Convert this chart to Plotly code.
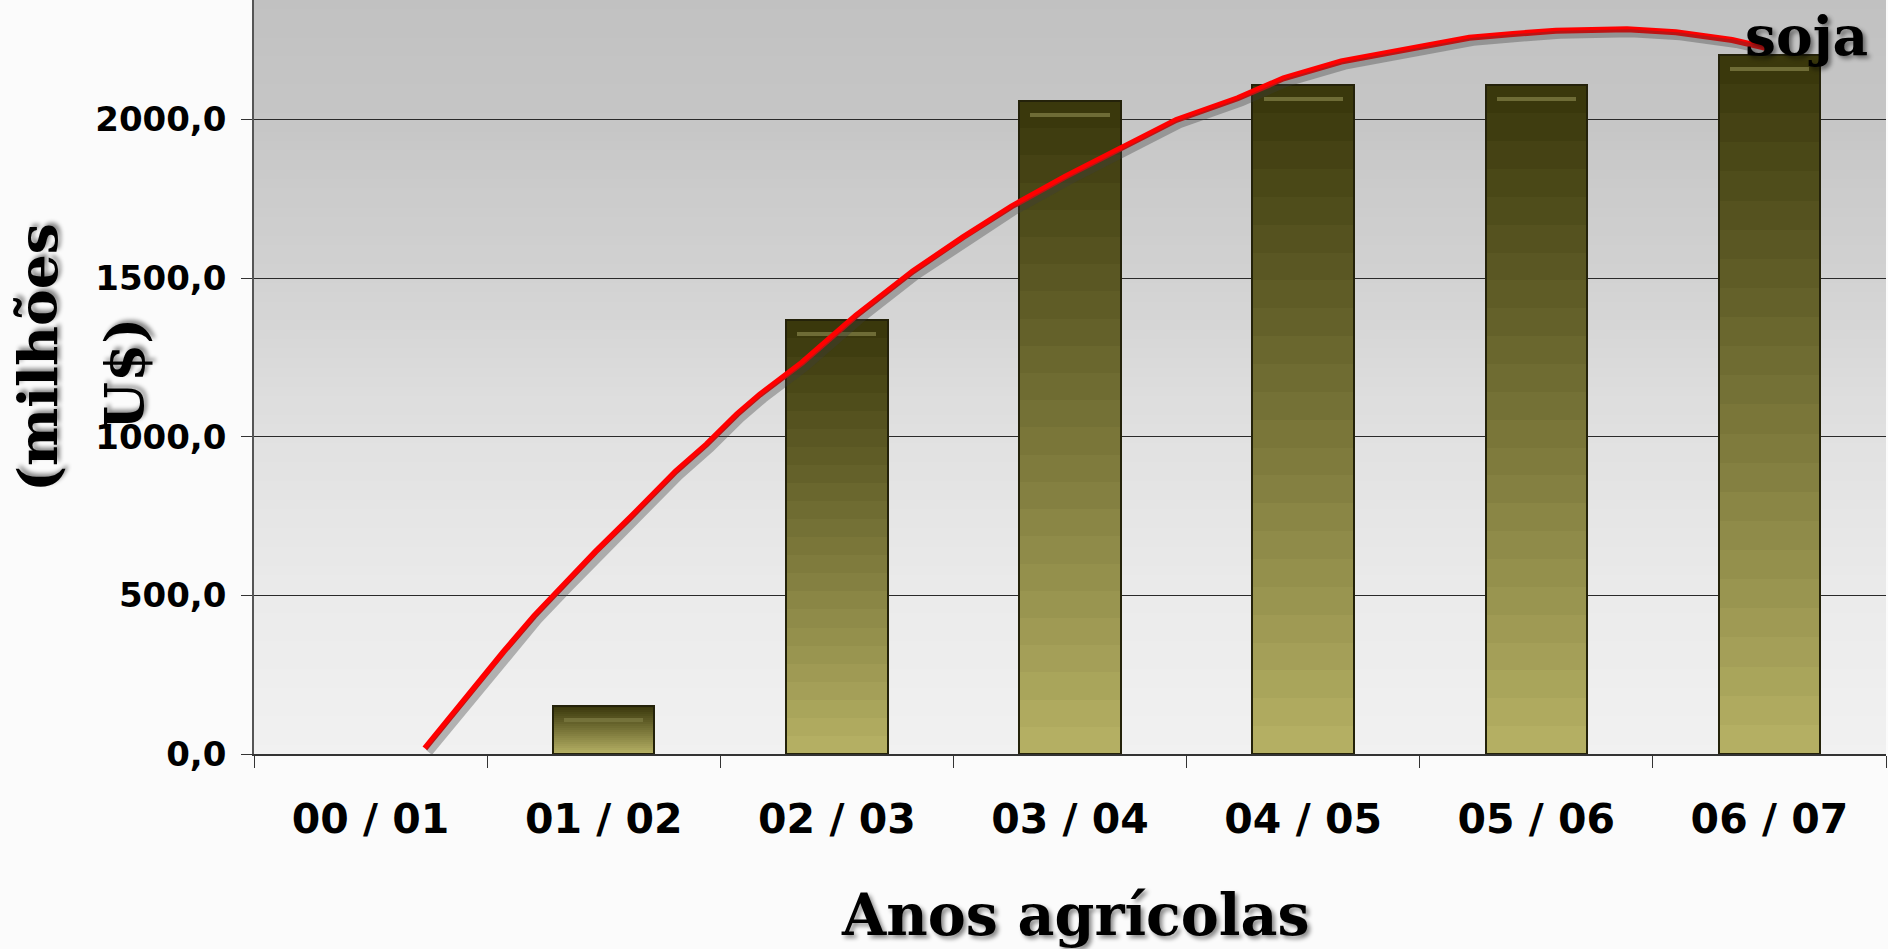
import plotly.graph_objects as go

# ---------------- data ----------------
categories = ["00 / 01", "01 / 02", "02 / 03", "03 / 04", "04 / 05", "05 / 06", "06 / 07"]
exports_musd = [0, 150, 1367, 2059, 2108, 2108, 2204]

# trend line, x in category units (0 = first category centre)
trend_x = [0.233, 0.414, 0.570, 0.702, 0.833, 0.964, 1.112, 1.309, 1.441, 1.572,
           1.670, 1.851, 2.081, 2.327, 2.541, 2.749, 2.980, 3.193, 3.456, 3.719,
           3.916, 4.163, 4.311, 4.540, 4.713, 4.900, 5.084, 5.389, 5.599, 5.840, 5.993]
trend_y = [18, 182, 322, 435, 536, 637, 744, 891, 976, 1071,
           1133, 1234, 1381, 1522, 1629, 1726, 1820, 1899, 1999, 2067,
           2130, 2183, 2204, 2235, 2258, 2270, 2280, 2285, 2275, 2251, 2225]

y_tickvals = [0, 500, 1000, 1500, 2000]
y_ticktext = ["0,0", "500,0", "1000,0", "1500,0", "2000,0"]

series_label = "soja"
x_title = "Anos agrícolas"
y_title_1 = "(milhões"
y_title_2 = "U$)"

# ---------------- style ----------------
W, H = 1888, 949
ML, MR, MT, MB = 254, 2, 0, 195
Y_MAX = 2377
BAR_W = 0.435
N_GRAD = 24
SERIF = "DejaVu Serif"
SANS = "DejaVu Sans"


def lerp_hex(c1, c2, t):
    a = [int(c1[i:i + 2], 16) for i in (1, 3, 5)]
    b = [int(c2[i:i + 2], 16) for i in (1, 3, 5)]
    return "rgb({},{},{})".format(*[round(a[k] + (b[k] - a[k]) * t) for k in range(3)])


xpos = list(range(len(categories)))
xr = [-0.5, len(categories) - 0.5]
px_x = (xr[1] - xr[0]) / (W - ML - MR)
px_y = Y_MAX / (H - MB - MT)
shown = [v if v > 0 else None for v in exports_musd]

fig = go.Figure()

# bar shadow at the base
fig.add_trace(go.Bar(
    x=xpos, y=[3 * px_y if v else None for v in shown], base=-3 * px_y, width=BAR_W * 0.95,
    marker=dict(color="#1c1c30", line=dict(width=0)), hoverinfo="skip", showlegend=False))

# bars: gradient built from overlaid bars (dark top -> light bottom)
BAR_TOP = "#3a380c"
BAR_BOT = "#b4af63"
for k in range(N_GRAD):
    frac = 1 - k / N_GRAD
    fig.add_trace(go.Bar(
        x=xpos, y=[v * frac if v else None for v in shown], width=BAR_W,
        marker=dict(color=lerp_hex(BAR_TOP, BAR_BOT, k / (N_GRAD - 1)), line=dict(width=0)),
        hoverinfo="skip", showlegend=False))

# bevel highlight just under the top of each bar
fig.add_trace(go.Bar(
    x=xpos, y=[4 * px_y if v else None for v in shown],
    base=[v - 16 * px_y if v else None for v in shown], width=BAR_W * 0.78,
    marker=dict(color="rgba(120,118,62,0.85)", line=dict(width=0)),
    hoverinfo="skip", showlegend=False))

# outline
fig.add_trace(go.Bar(
    x=xpos, y=shown, width=BAR_W,
    marker=dict(color="rgba(0,0,0,0)", line=dict(color="#24220a", width=2)),
    hoverinfo="skip", showlegend=False))

# shadow of trend line (same data, on an overlaid shifted axis pair)
SH = 4
fig.add_trace(go.Scatter(
    x=trend_x, y=trend_y, mode="lines", xaxis="x2", yaxis="y2",
    line=dict(color="rgba(60,60,60,0.35)", width=8),
    hoverinfo="skip", showlegend=False))

fig.add_trace(go.Scatter(
    x=trend_x, y=trend_y, mode="lines", name=series_label,
    line=dict(color="#ff0000", width=6), showlegend=False))

# background gradient of plot area
bg_stops = [(0.0, "#f1f1f1"), (0.2, "#ebebeb"), (0.42, "#e1e1e1"), (0.63, "#d2d2d2"),
            (0.84, "#c6c6c6"), (1.0, "#c1c1c1")]
shapes = []
NB = 80
for i in range(NB):
    t0, t1 = i / NB, (i + 1) / NB
    tm = (t0 + t1) / 2
    for j in range(len(bg_stops) - 1):
        if bg_stops[j][0] <= tm <= bg_stops[j + 1][0]:
            tt = (tm - bg_stops[j][0]) / (bg_stops[j + 1][0] - bg_stops[j][0])
            col = lerp_hex(bg_stops[j][1], bg_stops[j + 1][1], tt)
            break
    shapes.append(dict(type="rect", xref="x domain", yref="y domain", x0=0, x1=1,
                       y0=t0, y1=t1 + 0.002, fillcolor=col, line=dict(width=0), layer="below"))

shadow = "3px 3px 4px rgba(0,0,0,0.45)"
annotations = [
    dict(text=f"<b>{x_title}</b>", xref="paper", yref="paper",
         x=(1075 - ML) / (W - ML - MR), y=(H - MB - 914) / (H - MB - MT),
         xanchor="center", yanchor="middle", showarrow=False,
         font=dict(family=SERIF, size=57, color="black", shadow=shadow)),
    dict(text=f"<b>{y_title_1}</b>", xref="paper", yref="paper",
         x=(37 - ML) / (W - ML - MR), y=(H - MB - 358) / (H - MB - MT),
         xanchor="center", yanchor="middle", textangle=-90, showarrow=False,
         font=dict(family=SERIF, size=55, color="black", shadow=shadow)),
    dict(text=f"<b>{y_title_2}</b>", xref="paper", yref="paper",
         x=(124 - ML) / (W - ML - MR), y=(H - MB - 374) / (H - MB - MT),
         xanchor="center", yanchor="middle", textangle=-90, showarrow=False,
         font=dict(family=SERIF, size=55, color="black", shadow=shadow)),
    dict(text=f"<b>{series_label}</b>", xref="paper", yref="paper",
         x=(1806 - ML) / (W - ML - MR), y=(H - MB - 36) / (H - MB - MT),
         xanchor="center", yanchor="middle", showarrow=False,
         font=dict(family=SERIF, size=55, color="black", shadow=shadow)),
]

fig.update_layout(
    width=W, height=H,
    margin=dict(l=ML, r=MR, t=MT, b=MB),
    paper_bgcolor="#fbfbfb", plot_bgcolor="#e6e6e6",
    barmode="overlay", bargap=0,
    shapes=shapes, annotations=annotations,
    xaxis=dict(range=xr, tickvals=xpos, ticktext=[f"<b>{c}</b>" for c in categories],
               ticks="", showgrid=False, zeroline=False, showline=True,
               linecolor="#333333", linewidth=1.5,
               tickfont=dict(family=SANS, size=41, color="black"),
               ticklabelstandoff=28,
               minor=dict(tickvals=[x - 0.5 for x in xpos] + [xpos[-1] + 0.5],
                          ticks="outside", ticklen=12, tickcolor="#333333",
                          tickwidth=1, showgrid=False),
               fixedrange=True),
    yaxis=dict(range=[0, Y_MAX], tickvals=y_tickvals,
               ticktext=[f"<b>{t}</b>" for t in y_ticktext],
               ticks="outside", ticklen=11, tickcolor="#333333",
               showgrid=True, gridcolor="#2a2a2a", gridwidth=1,
               zeroline=False, showline=True, linecolor="#555555", linewidth=1.5,
               tickfont=dict(family=SANS, size=34, color="black"), ticklabelstandoff=8,
               fixedrange=True),
    xaxis2=dict(range=[xr[0] - SH * px_x, xr[1] - SH * px_x], overlaying="x",
                visible=False, fixedrange=True),
    yaxis2=dict(range=[SH * px_y, Y_MAX + SH * px_y], overlaying="y",
                visible=False, fixedrange=True),
)

fig.write_html("out.html", config={"displayModeBar": False},
               post_script="document.body.style.margin='0';document.body.style.overflow='hidden';")
